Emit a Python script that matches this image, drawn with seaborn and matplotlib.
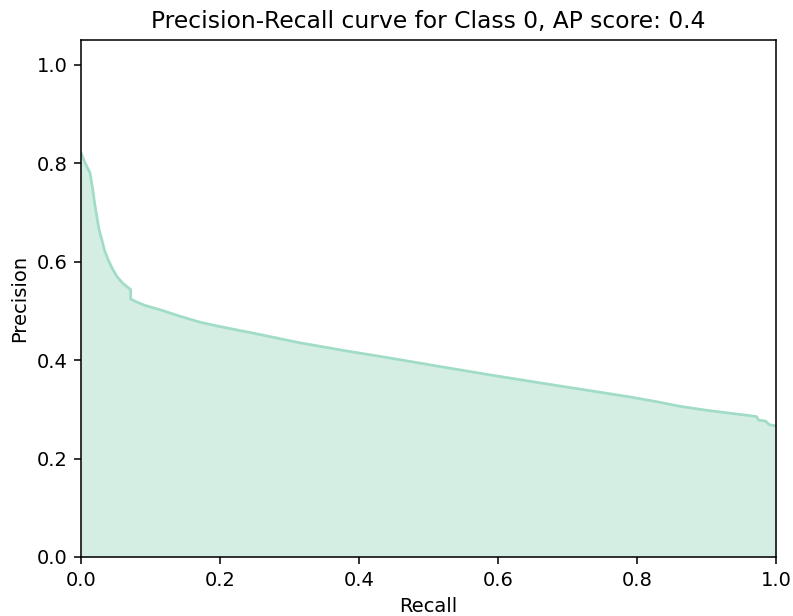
import matplotlib
matplotlib.use("Agg")
import matplotlib.pyplot as plt
import seaborn as sns
import pandas as pd

recall = [0.0, 0.006, 0.013, 0.017, 0.020, 0.023, 0.026, 0.030, 0.034, 0.039,
          0.045, 0.052, 0.060, 0.0715, 0.0715, 0.080, 0.092, 0.114, 0.14, 0.171,
          0.2, 0.25, 0.315, 0.38, 0.445, 0.52, 0.588, 0.65, 0.718, 0.79,
          0.83, 0.862, 0.90, 0.934, 0.963, 0.972, 0.975, 0.985, 0.99, 1.0]
precision = [0.821, 0.80, 0.78, 0.745, 0.715, 0.69, 0.665, 0.644, 0.622, 0.604,
             0.586, 0.569, 0.556, 0.543, 0.524, 0.518, 0.511, 0.502, 0.490, 0.477,
             0.468, 0.454, 0.435, 0.419, 0.404, 0.386, 0.370, 0.356, 0.341, 0.325,
             0.315, 0.306, 0.298, 0.292, 0.287, 0.285, 0.278, 0.276, 0.269, 0.266]

df = pd.DataFrame({"Recall": recall, "Precision": precision})

W, H, DPI = 793, 616, 140
fig = plt.figure(figsize=(W / DPI, H / DPI), dpi=DPI)
ax = fig.add_axes([81 / W, (H - 557) / H, (776 - 81) / W, (557 - 40) / H])

ax.fill_between(df["Recall"], df["Precision"], color="#d4eee4", linewidth=0)
sns.lineplot(data=df, x="Recall", y="Precision", estimator=None, sort=False,
             color="#a0dcc6", linewidth=1.4, ax=ax)

ax.set_xlim(0, 1.0)
ax.set_ylim(0, 1.05)
ax.set_xticks([0, 0.2, 0.4, 0.6, 0.8, 1.0])
ax.set_yticks([0, 0.2, 0.4, 0.6, 0.8, 1.0])
ax.set_xlabel("Recall")
ax.set_ylabel("Precision")
ax.set_title("Precision-Recall curve for Class 0, AP score: 0.4")

fig.savefig("out.png", dpi=DPI)
